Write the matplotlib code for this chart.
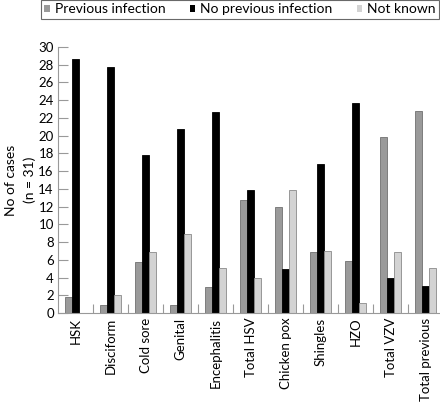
import matplotlib
matplotlib.use("Agg")
import matplotlib.pyplot as plt
from matplotlib.patches import Patch
import numpy as np

categories = ["HSK", "Disciform", "Cold sore", "Genital", "Encephalitis", "Total HSV",
              "Chicken pox", "Shingles", "HZO", "Total VZV", "Total previous"]
previous = [1.8, 0.9, 5.8, 0.9, 2.9, 12.8, 11.9, 6.9, 5.9, 19.8, 22.8]
no_previous = [28.6, 27.8, 17.8, 20.7, 22.7, 13.9, 5.0, 16.8, 23.7, 3.9, 3.0]
not_known = [0, 2.0, 6.9, 8.9, 5.1, 4.0, 13.9, 7.0, 1.1, 6.9, 5.1]
series_names = ["Previous infection", "No previous infection", "Not known"]
yticks = list(range(0, 31, 2))

plt.rcParams['font.family'] = ['Lato', 'DejaVu Sans']

W, H = 440, 403
fig = plt.figure(figsize=(W / 100, H / 100), dpi=100)
ax = fig.add_axes([58 / W, (H - 313) / H, (W - 58) / W, (313 - 47) / H])

x = np.arange(len(categories))
w = 0.2
c_prev, c_no, c_nk = "#9a9a9a", "#000000", "#d3d3d3"
ax.bar(x - w, previous, w, color=c_prev, edgecolor="#707070", linewidth=0.6)
ax.bar(x, no_previous, w, color=c_no, edgecolor="#000000", linewidth=0.6)
ax.bar(x + w, not_known, w, color=c_nk, edgecolor="#8a8a8a", linewidth=0.6)

ax.set_xlim(-0.5, -0.5 + (W - 58) / 35)
ax.set_ylim(0, 30)
ax.set_yticks(yticks)
ax.set_xticks(x)
ax.set_xticklabels(categories, rotation=90, fontsize=9.5)
ax.set_xticks(np.arange(0.5, len(categories) - 1, 1.0), minor=True)
ax.tick_params(axis="x", which="major", length=0, pad=3.5)
ax.tick_params(axis="x", which="minor", direction="in", length=6.5, color="#999999", width=0.8)
ax.tick_params(axis="y", direction="in", length=7.2, color="#999999", width=0.8, labelsize=9.5, pad=3)

for s in ["top", "right"]:
    ax.spines[s].set_visible(False)
for s in ["left", "bottom"]:
    ax.spines[s].set_color("#999999")
    ax.spines[s].set_linewidth(0.8)

ax.set_ylabel("No of cases\n(n = 31)", fontsize=10, labelpad=2, linespacing=1.6)

handles = [Patch(facecolor=c, edgecolor="none") for c in (c_prev, c_no, c_nk)]
leg = fig.legend(handles, series_names, loc="upper left", bbox_to_anchor=(41 / W, 1.0),
                 ncol=3, fontsize=10, frameon=True, fancybox=False, handlelength=0.4,
                 handleheight=0.4, handletextpad=0.35, columnspacing=1.75,
                 borderpad=0.25, borderaxespad=0)
leg.get_frame().set_edgecolor("#444444")
leg.get_frame().set_linewidth(0.8)

fig.savefig("out.png", dpi=100)
